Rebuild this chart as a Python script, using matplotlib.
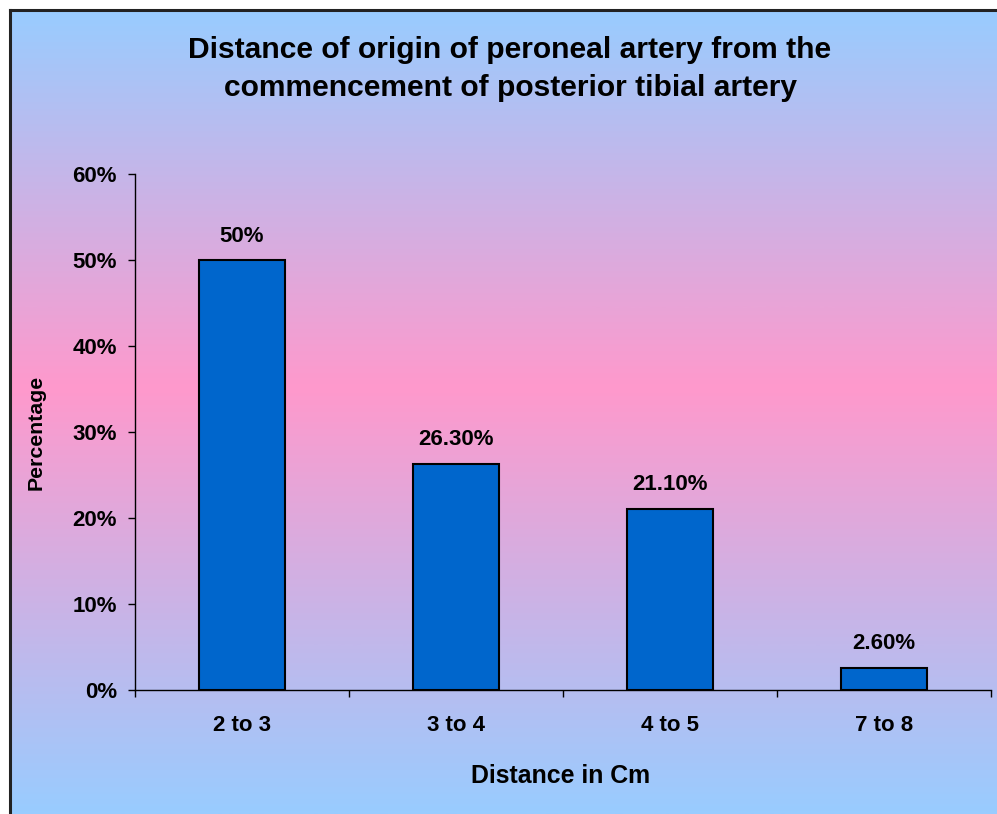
import numpy as np
import matplotlib.pyplot as plt
from matplotlib.colors import LinearSegmentedColormap
from matplotlib.ticker import FixedLocator, PercentFormatter

plt.rcParams['font.family'] = ['Liberation Sans', 'DejaVu Sans']
plt.rcParams['font.weight'] = 'bold'

categories = ['2 to 3', '3 to 4', '4 to 5', '7 to 8']
values = [50, 26.3, 21.1, 2.6]
labels = ['50%', '26.30%', '21.10%', '2.60%']

W, H = 997, 814
fig = plt.figure(figsize=(W / 100, H / 100), dpi=100)
fig.patch.set_facecolor('white')

# fondo degradado azul-rosa-azul
bg = fig.add_axes([10 / W, 0, 1 - 10 / W, 1 - 10 / H], zorder=-10)
grad = np.linspace(0, 1, 400).reshape(-1, 1)
cmap = LinearSegmentedColormap.from_list('bg', [(0, '#99CCFF'), (0.47, '#FF99CC'), (1, '#99CCFF')])
bg.imshow(grad, aspect='auto', cmap=cmap, extent=[0, 1, 0, 1], origin='upper')
bg.set_xticks([])
bg.set_yticks([])
for s in ['right', 'bottom']:
    bg.spines[s].set_visible(False)
for s in ['left', 'top']:
    bg.spines[s].set_linewidth(2.2)
    bg.spines[s].set_color('#222222')

ax = fig.add_axes([135 / W, 1 - 690 / H, (991 - 135) / W, (690 - 174) / H])
ax.patch.set_alpha(0)
x = np.arange(len(categories))
ax.bar(x, values, width=0.4, color='#0066CC', edgecolor='black', linewidth=1.5)
for xi, v, lab in zip(x, values, labels):
    ax.annotate(lab, (xi, v), xytext=(0, 24), textcoords='offset pixels',
                ha='center', va='center', fontsize=16, fontweight='bold')

ax.set_xlim(-0.5, len(categories) - 0.5)
ax.set_ylim(0, 60)
ax.yaxis.set_major_locator(FixedLocator(np.arange(0, 61, 10)))
ax.yaxis.set_major_formatter(PercentFormatter(decimals=0))
ax.xaxis.set_major_locator(FixedLocator(np.arange(-0.5, len(categories), 1)))
ax.xaxis.set_major_formatter(plt.NullFormatter())
ax.xaxis.set_minor_locator(FixedLocator(x))
ax.set_xticklabels(categories, minor=True)
ax.tick_params(axis='x', which='major', length=5, width=1, direction='out')
ax.tick_params(axis='x', which='minor', length=0, pad=18, labelsize=16)
ax.tick_params(axis='y', length=5, width=1, direction='out', pad=8, labelsize=16)
for s in ['top', 'right']:
    ax.spines[s].set_visible(False)
for s in ['left', 'bottom']:
    ax.spines[s].set_linewidth(1)

fig.text(36 / W, 1 - 432 / H, 'Percentage', rotation=90, ha='center', va='center',
         fontsize=15.3, fontweight='bold')
fig.text(561 / W, 1 - 776 / H, 'Distance in Cm', ha='center', va='center',
         fontsize=17.9, fontweight='bold')
fig.text(510 / W, 1 - 69 / H,
         'Distance of origin of peroneal artery from the\ncommencement of posterior tibial artery',
         ha='center', va='center', fontsize=21.6, fontweight='bold', linespacing=1.42)

fig.savefig('out.png', dpi=100)
